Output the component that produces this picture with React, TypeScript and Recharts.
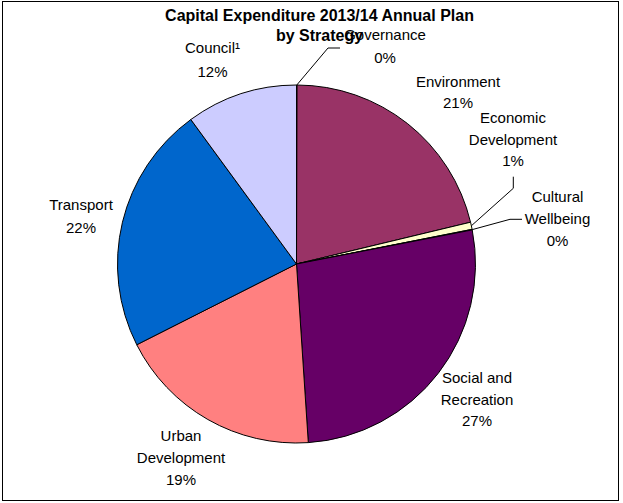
import React from 'react';
import { PieChart, Pie, Cell } from 'recharts';

const categories = [
  'Governance',
  'Environment',
  'Economic Development',
  'Cultural Wellbeing',
  'Social and Recreation',
  'Urban Development',
  'Transport',
  'Council¹',
];
const shares = [0.05, 21.2, 0.65, 0.05, 27.0, 18.6, 22.4, 10.05];
const percentLabels = ['0%', '21%', '1%', '0%', '27%', '19%', '22%', '12%'];
const labelLines = [
  ['Governance'],
  ['Environment'],
  ['Economic', 'Development'],
  ['Cultural', 'Wellbeing'],
  ['Social and', 'Recreation'],
  ['Urban', 'Development'],
  ['Transport'],
  ['Council¹'],
];
const colors = ['#9999FF', '#993366', '#FFFFCC', '#CCFFFF', '#660066', '#FF8080', '#0066CC', '#CCCCFF'];
const titleLines = ['Capital Expenditure 2013/14 Annual Plan', 'by Strategy'];

const data = categories.map((name, i) => ({ name, value: shares[i] }));

const W = 623;
const H = 503;
const CX = 296.5;
const CY = 264;
const R = 179;
const FONT = '"Liberation Sans", Arial, sans-serif';

// label layout: offset of first-line baseline centre from pie centre
const LABEL_LAYOUT: { dx: number; dy: number; lh: number; leader?: number[][] }[] = [
  { dx: 88.5, dy: -224, lh: 22.5, leader: [[31.5, -216], [43.5, -216]] },
  { dx: 161.5, dy: -177.5, lh: 21 },
  { dx: 216.5, dy: -141, lh: 21.5, leader: [[216.8, -75.7], [216.8, -87.3]] },
  { dx: 261, dy: -62, lh: 22, leader: [[213.5, -44.7], [225.5, -44.7]] },
  { dx: 180.5, dy: 119, lh: 21.5 },
  { dx: -115.5, dy: 177, lh: 22 },
  { dx: -215.5, dy: -54, lh: 22.5 },
  { dx: -84, dy: -211, lh: 23.5 },
];

const renderLabel = (props: any) => {
  const { cx, cy, midAngle, outerRadius, index } = props;
  const L = LABEL_LAYOUT[index];
  const x = cx + L.dx;
  const y0 = cy + L.dy;
  const lines = [...labelLines[index], percentLabels[index]];
  let leader = null;
  if (L.leader) {
    const a = (-midAngle * Math.PI) / 180;
    const sx = cx + outerRadius * Math.cos(a);
    const sy = cy + outerRadius * Math.sin(a);
    const pts = [[sx, sy], ...L.leader.map(([dx, dy]) => [cx + dx, cy + dy])];
    leader = (
      <polyline
        points={pts.map((p) => p.join(',')).join(' ')}
        fill="none"
        stroke="#000"
        strokeWidth={1}
      />
    );
  }
  return (
    <g key={`lbl-${index}`}>
      {leader}
      <text x={x} y={y0} textAnchor="middle" fontFamily={FONT} fontSize={15} fill="#000">
        {lines.map((t, i) => (
          <tspan key={i} x={x} y={y0 + i * L.lh}>
            {t}
          </tspan>
        ))}
      </text>
    </g>
  );
};

export default function App() {
  return (
    <div style={{ position: 'absolute', left: 0, top: 0, width: W, height: H, background: '#fff' }}>
      <div
        style={{
          position: 'absolute',
          left: 2,
          top: 1,
          width: 617,
          height: 500,
          boxSizing: 'border-box',
          border: '1px solid #000',
        }}
      />
      <div style={{ position: 'absolute', left: 0, top: 0 }}>
        <PieChart width={W} height={H} margin={{ top: 0, right: 0, bottom: 0, left: 0 }}>
          <Pie
            data={data}
            dataKey="value"
            nameKey="name"
            cx={CX}
            cy={CY}
            outerRadius={R}
            startAngle={90}
            endAngle={-270}
            stroke="#000"
            strokeWidth={1}
            label={renderLabel}
            labelLine={false}
            isAnimationActive={false}
          >
            {data.map((d, i) => (
              <Cell key={d.name} fill={colors[i]} />
            ))}
          </Pie>
        </PieChart>
      </div>
      <svg
        width={W}
        height={H}
        style={{ position: 'absolute', left: 0, top: 0, pointerEvents: 'none' }}
      >
        {titleLines.map((t, i) => (
          <text
            key={t}
            x={319.5}
            y={20.5 + i * 20}
            textAnchor="middle"
            fontFamily={FONT}
            fontSize={16}
            fontWeight="bold"
            fill="#000"
          >
            {t}
          </text>
        ))}
      </svg>
    </div>
  );
}
